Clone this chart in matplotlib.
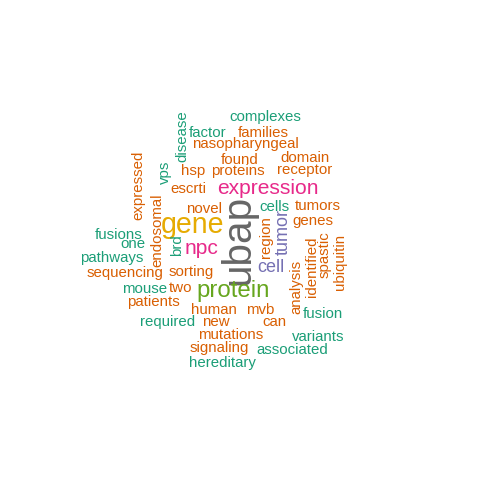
import matplotlib.pyplot as plt

# word cloud layout (pixel coords, y down)
words = ["complexes", "factor", "families", "nasopharyngeal", "disease", "found",
         "domain", "receptor", "hsp", "proteins", "vps", "expressed", "escrti",
         "expression", "novel", "cells", "tumors", "gene", "ubap", "region",
         "tumor", "genes", "endosomal", "fusions", "one", "brd", "npc",
         "identified", "spastic", "ubiquitin", "pathways", "cell", "analysis",
         "sequencing", "sorting", "protein", "mouse", "two", "patients", "human",
         "mvb", "fusion", "required", "new", "can", "mutations", "variants",
         "signaling", "associated", "hereditary"]
xs = [265, 208, 263, 245, 182, 240, 305, 305, 193, 238, 165, 138, 188,
      268, 204, 274, 318, 193, 238, 266, 283, 313, 157, 119, 133, 177, 201,
      312, 325, 340, 112, 271, 296, 125, 191, 233, 145, 181, 153, 214,
      260, 323, 168, 216, 274, 231, 318, 219, 292, 222]
ys = [117, 133, 133, 144, 136, 160, 158, 170, 171, 171, 172, 185, 189,
      188, 209, 207, 206, 225, 240, 237, 232, 221, 230, 235, 244, 245, 249,
      267, 255, 262, 258, 268, 287, 273, 272, 291, 289, 288, 302, 310,
      310, 314, 322, 322, 322, 335, 337, 348, 350, 363]
sizes = [10, 10, 10, 10, 10, 10, 10, 10, 10, 10, 10, 10, 10,
         14, 10, 10, 10, 19, 27, 10, 12, 10, 10, 10, 10, 10, 14,
         10, 10, 10, 10, 12, 10, 10, 10, 16, 10, 10, 10, 10,
         10, 10, 10, 10, 10, 10, 10, 10, 10, 10]
rots = [0, 0, 0, 0, 90, 0, 0, 0, 0, 0, 90, 90, 0,
        0, 0, 0, 0, 0, 90, 90, 90, 0, 90, 0, 0, 90, 0,
        90, 90, 90, 0, 0, 90, 0, 0, 0, 0, 0, 0, 0,
        0, 0, 0, 0, 0, 0, 0, 0, 0, 0]
T, O, P, Y, G, U, K = "#1B9E77", "#D95F02", "#E7298A", "#E6AB02", "#66A61E", "#7570B3", "#666666"
colors = [T, T, O, O, T, O, O, O, O, O, T, O, O,
          P, O, T, O, Y, K, O, U, O, O, T, T, T, P,
          O, O, O, T, U, O, O, O, G, T, O, O, O,
          O, T, T, O, O, O, T, O, T, T]

scale = 1.08

fig = plt.figure(figsize=(4.8, 4.8), dpi=100)
ax = fig.add_axes([0, 0, 1, 1])
ax.set_xlim(0, 480)
ax.set_ylim(480, 0)
ax.axis("off")

for w, x, y, s, r, c in zip(words, xs, ys, sizes, rots, colors):
    ax.text(x, y, w, fontsize=s * scale, rotation=r, color=c,
            ha="center", va="center", family="Liberation Sans")

fig.savefig("out.png", dpi=100)
